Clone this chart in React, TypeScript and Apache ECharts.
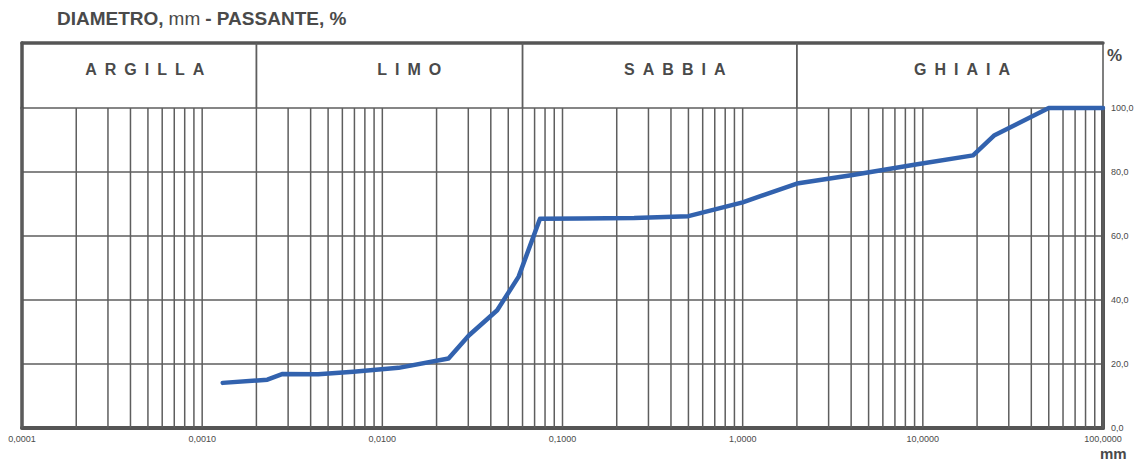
import React, { useEffect, useRef } from "react";
import * as echarts from "echarts";

// Grain-size curve: diameter (mm) and passing (%)
const diameters = [0.0013, 0.0023, 0.0028, 0.0044, 0.0069, 0.0123, 0.0233, 0.0302, 0.0434, 0.0571, 0.075, 0.125, 0.25, 0.5, 1, 2, 4, 9.5, 19, 25, 50, 100];
const passing = [14.1, 15.1, 16.9, 16.8, 17.6, 18.8, 21.7, 28.9, 36.8, 47.3, 65.4, 65.5, 65.6, 66.2, 70.5, 76.4, 79.0, 82.5, 85.2, 91.5, 100, 100];

// Soil classes (header band)
const zoneNames = ["ARGILLA", "LIMO", "SABBIA", "GHIAIA"];
const zoneBounds = [0.002, 0.06, 2];
const zoneLabelAt = [0.00048, 0.0141, 0.42, 16.5];

// Log grid
const decades = [0.0001, 0.001, 0.01, 0.1, 1, 10];
const multipliers = [1, 2, 3, 4, 5, 6, 7, 8, 9];
const yTicks = [0, 20, 40, 60, 80, 100];

const gridX = decades.flatMap((d) => multipliers.map((m) => d * m)).concat([100]);

const FONT = "'Liberation Sans', Arial, sans-serif";
const GRID_C = "#5e5e5e";
const FRAME_C = "#555555";
const TEXT_C = "#4a4a4a";

export default function App() {
  const ref = useRef<HTMLDivElement>(null);
  useEffect(() => {
    if (!ref.current) return;
    const chart = echarts.init(ref.current, null, { renderer: "svg" });
    const spaced = (s: string) => s.split("").join("\u2002");
    const option: any = {
      animation: false,
      backgroundColor: "#ffffff",
      title: {
        text: "{b|DIAMETRO,} {r|mm} {b|- PASSANTE, %}",
        left: 57,
        top: 9,
        padding: 0,
        textStyle: {
          rich: {
            b: { fontFamily: FONT, fontWeight: "bold", fontSize: 19, color: TEXT_C },
            r: { fontFamily: FONT, fontWeight: "normal", fontSize: 19, color: TEXT_C },
          },
        },
      },
      grid: [
        { left: 22, right: 35, top: 108, bottom: 36 },
        { left: 22, right: 35, top: 43, height: 65 },
      ],
      xAxis: [
        {
          type: "log",
          gridIndex: 0,
          logBase: 10,
          min: 0.0001,
          max: 100,
          position: "bottom",
          axisLine: { show: true, onZero: false, lineStyle: { color: FRAME_C, width: 4 } },
          axisTick: { show: false },
          splitLine: { show: false },
          axisLabel: {
            show: true,
            margin: 6,
            fontSize: 9,
            fontFamily: FONT,
            color: TEXT_C,
            formatter: (v: number) => Number(v).toFixed(4).replace(".", ","),
          },
        },
        {
          type: "log",
          gridIndex: 1,
          logBase: 10,
          min: 0.0001,
          max: 100,
          position: "top",
          axisLine: { show: true, onZero: false, lineStyle: { color: FRAME_C, width: 3.5 } },
          axisTick: { show: false },
          splitLine: { show: false },
          axisLabel: { show: false },
        },
      ],
      yAxis: [
        {
          type: "value",
          gridIndex: 0,
          min: 0,
          max: 100,
          interval: 20,
          position: "right",
          axisLine: { show: true, onZero: false, lineStyle: { color: FRAME_C, width: 4 } },
          axisTick: { show: false },
          splitLine: { show: true, lineStyle: { color: GRID_C, width: 1.5 } },
          axisLabel: {
            show: true,
            margin: 8,
            fontSize: 9,
            fontFamily: FONT,
            color: TEXT_C,
            customValues: yTicks,
            formatter: (v: number) => Number(v).toFixed(1).replace(".", ","),
          },
        },
        {
          type: "value",
          gridIndex: 0,
          min: 0,
          max: 100,
          position: "left",
          axisLine: { show: true, onZero: false, lineStyle: { color: FRAME_C, width: 3.5 } },
          axisTick: { show: false },
          splitLine: { show: false },
          axisLabel: { show: false },
        },
        {
          type: "value",
          gridIndex: 1,
          min: 0,
          max: 1,
          position: "left",
          axisLine: { show: true, onZero: false, lineStyle: { color: FRAME_C, width: 3.5 } },
          axisTick: { show: false },
          splitLine: { show: false },
          axisLabel: { show: false },
        },
        {
          type: "value",
          gridIndex: 1,
          min: 0,
          max: 1,
          position: "right",
          axisLine: { show: true, onZero: false, lineStyle: { color: FRAME_C, width: 1.5 } },
          axisTick: { show: false },
          splitLine: { show: false },
          axisLabel: { show: false },
        },
      ],
      graphic: [
        {
          type: "text",
          left: 1107,
          top: 47,
          style: { text: "%", fontFamily: FONT, fontWeight: "bold", fontSize: 17, fill: TEXT_C },
        },
        {
          type: "text",
          left: 1100,
          top: 446,
          style: { text: "mm", fontFamily: FONT, fontWeight: "bold", fontSize: 15, fill: TEXT_C },
        },
      ],
      series: [
        {
          type: "custom",
          name: "vgrid",
          xAxisIndex: 0,
          yAxisIndex: 0,
          silent: true,
          z: 1,
          data: gridX.map((v) => [v, 0]),
          renderItem: (params: any, api: any) => {
            const x = api.value(0);
            const p0 = api.coord([x, 0]);
            const p1 = api.coord([x, 100]);
            return {
              type: "line",
              shape: { x1: p0[0], y1: p0[1], x2: p1[0], y2: p1[1] },
              style: { stroke: GRID_C, lineWidth: 1.5 },
            };
          },
        },
        {
          type: "custom",
          name: "zoneBounds",
          xAxisIndex: 1,
          yAxisIndex: 2,
          silent: true,
          data: zoneBounds.map((v) => [v, 0]),
          renderItem: (params: any, api: any) => {
            const x = api.value(0);
            const p0 = api.coord([x, 0]);
            const p1 = api.coord([x, 1]);
            return {
              type: "line",
              shape: { x1: p0[0], y1: p0[1], x2: p1[0], y2: p1[1] },
              style: { stroke: GRID_C, lineWidth: 1.8 },
            };
          },
        },
        {
          type: "custom",
          name: "zoneNames",
          xAxisIndex: 1,
          yAxisIndex: 2,
          silent: true,
          data: zoneLabelAt.map((v) => [v, 0.6]),
          renderItem: (params: any, api: any) => {
            const c = api.coord([api.value(0), api.value(1)]);
            return {
              type: "text",
              x: c[0],
              y: c[1],
              style: {
                text: spaced(zoneNames[params.dataIndex]),
                fill: TEXT_C,
                fontFamily: FONT,
                fontWeight: "bold",
                fontSize: 16,
                align: "center",
                verticalAlign: "middle",
              },
            };
          },
        },
        {
          type: "line",
          name: "passante",
          xAxisIndex: 0,
          yAxisIndex: 0,
          z: 5,
          showSymbol: false,
          clip: false,
          data: diameters.map((d, i) => [d, passing[i]]),
          lineStyle: { color: "#3262ae", width: 4.5, join: "round", cap: "round" },
          itemStyle: { color: "#3262ae" },
        },
      ],
    };
    chart.setOption(option);
    return () => chart.dispose();
  }, []);
  return (
    <div
      ref={ref}
      style={{ position: "absolute", left: 0, top: 0, width: 1138, height: 464 }}
    />
  );
}
